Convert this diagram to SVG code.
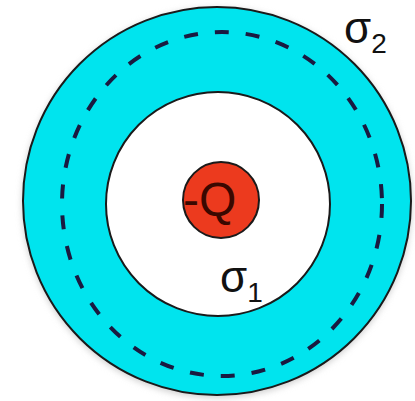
<svg xmlns="http://www.w3.org/2000/svg" width="415" height="401" viewBox="0 0 415 401">
<style>
.ln{stroke:#1a1a1a;stroke-width:2}
.t{font-family:"Liberation Sans",Arial,sans-serif;fill:#111}
</style>
<defs>
<filter id="sh" x="-10%" y="-10%" width="120%" height="120%"><feGaussianBlur stdDeviation="3"/></filter>
</defs>
<rect width="415" height="401" fill="#ffffff"/>
<g id="outer">
<circle cx="217" cy="203" r="195" fill="#d0d0d0" filter="url(#sh)"/>
<circle cx="217" cy="201" r="194" fill="#00e4ee" class="ln"/>
</g>
<g id="gauss">
<ellipse cx="222" cy="204" rx="160" ry="172" fill="none" stroke="#1a1a40" stroke-width="4" stroke-dasharray="14 17"/>
</g>
<g id="inner">
<circle cx="218" cy="204" r="112" fill="#ffffff" class="ln"/>
</g>
<g id="charge">
<circle cx="221" cy="200" r="38" fill="#ec3a1e" class="ln"/>
<text class="t" x="183" y="216" font-size="48" style="fill:#3a0800">-Q</text>
</g>
<g id="labels">
<text class="t" x="344" y="43" font-size="44">σ<tspan font-size="28" dy="10">2</tspan></text>
<text class="t" x="220" y="292" font-size="44">σ<tspan font-size="28" dy="10">1</tspan></text>
</g>
</svg>
